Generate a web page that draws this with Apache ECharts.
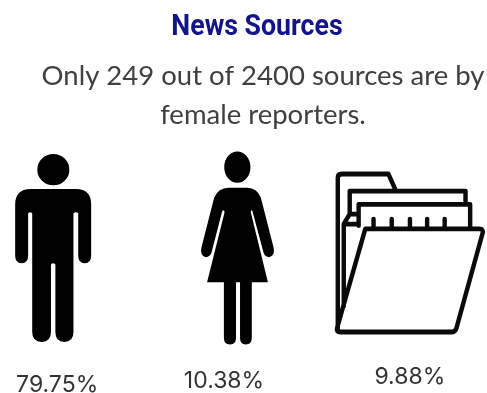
<!DOCTYPE html>
<html>
<head>
<meta charset="utf-8">
<style>html,body{margin:0;padding:0;background:#fff}#chart{width:487px;height:393px}</style>
<script src="https://cdn.jsdelivr.net/npm/echarts@6/dist/echarts.min.js"></script>
</head>
<body>
<div id="chart"></div>
<script>
// Share of news sources by group
const categories = ['Male reporters', 'Female reporters', 'Other sources'];
const shares = [79.75, 10.38, 9.88];
const headline = 'News Sources';
const summaryLines = ['Only 249 out of 2400 sources are by', 'female reporters.'];

// Pictograms for each group
const manIcon = 'path://M112 87A47 47 0 1 1 206 87A47 47 0 1 1 112 87ZM92 145L226 145Q270 145 270 192L270 345Q270 368 251 368Q232 368 232 345L232 218Q225 212 218 218L218 575Q218 605 191 605Q165 605 165 575L165 372Q158 364 152 372L152 575Q152 605 125 605Q97 605 97 575L97 218Q91 212 85 218L85 345Q85 368 66 368Q47 368 47 345L47 192Q47 145 92 145Z';
const womanIcon = 'path://M673 83A39 47 0 1 1 751 83A39 47 0 1 1 673 83ZM686 145L742 145Q770 145 782 175L820 325Q825 350 806 353Q795 353 790 340L757 215Q752 208 752 218L803 428L755 428L755 595Q755 615 737 615Q720 615 720 595L720 428L708 428L708 595Q708 615 690 615Q672 615 672 595L672 428L622 428L674 218Q672 208 667 215L635 340Q630 353 618 353Q600 350 605 325L643 175Q655 145 686 145Z';
const folderIcon = 'path://M52 510L52 50Q52 38 64 38L205 38L228 90M88 160L88 90L438 90L438 128M115 195L115 130L452 130L452 200M135 205L480 205Q494 205 489 220L410 508Q406 518 395 518L60 518Q46 518 50 505ZM70 440L70 190L88 160L112 160M70 190L115 190M160 175L160 205M215 175L215 205M270 175L270 205M322 175L322 205M375 175L375 205';

const iconSymbols = [manIcon, womanIcon, folderIcon];
const iconSizes = [[76, 188], [73, 193], [146, 158]];
const iconOffsets = [[-28, 0], [-6, 0], [4, 5]];
const labelOffsets = [[-24, 137], [-19.5, 133], [4, 129]];

const chart = echarts.init(document.getElementById('chart'), null, { renderer: 'canvas' });
chart.setOption({
  animation: false,
  backgroundColor: '#ffffff',
  title: [
    { text: summaryLines[0], left: 258, top: 57, textAlign: 'center',
      textStyle: { fontFamily: 'Lato', fontWeight: 'normal', fontSize: 27.5, color: '#404040' } },
    { text: summaryLines[1], left: 258, top: 96, textAlign: 'center',
      textStyle: { fontFamily: 'Lato', fontWeight: 'normal', fontSize: 27.5, color: '#404040' } }
  ],
  graphic: [{
    type: 'text',
    x: 257,
    y: 27,
    scaleX: 0.89,
    style: {
      text: headline,
      align: 'center',
      verticalAlign: 'middle',
      fontFamily: 'Roboto',
      fontWeight: 'bold',
      fontSize: 30,
      fill: '#14148a'
    }
  }],
  grid: { left: 0, right: 0, top: 120, height: 256 },
  xAxis: { type: 'category', data: categories, show: false },
  yAxis: { type: 'category', data: ['row'], show: false },
  tooltip: { show: false },
  series: [
    {
      type: 'scatter',
      silent: true,
      data: categories.map((c, i) => ({
        value: [c, 'row'],
        symbol: iconSymbols[i],
        symbolSize: iconSizes[i],
        symbolOffset: iconOffsets[i],
        symbolKeepAspect: false,
        itemStyle: i === 2
          ? { opacity: 1, color: 'rgba(0,0,0,0)', borderColor: '#0a0a0a', borderWidth: 4.6, borderCap: 'round', borderJoin: 'round' }
          : { opacity: 1, color: '#000000' }
      }))
    },
    {
      type: 'scatter',
      silent: true,
      symbolSize: 0,
      itemStyle: { opacity: 1 },
      data: categories.map((c, i) => ({
        value: [c, 'row'],
        label: {
          show: true,
          position: 'inside',
          offset: labelOffsets[i],
          formatter: shares[i].toFixed(2) + '%',
          fontFamily: 'Inter',
          fontSize: 23,
          opacity: 1,
          color: '#333333'
        }
      }))
    }
  ]
});
</script>
</body>
</html>
